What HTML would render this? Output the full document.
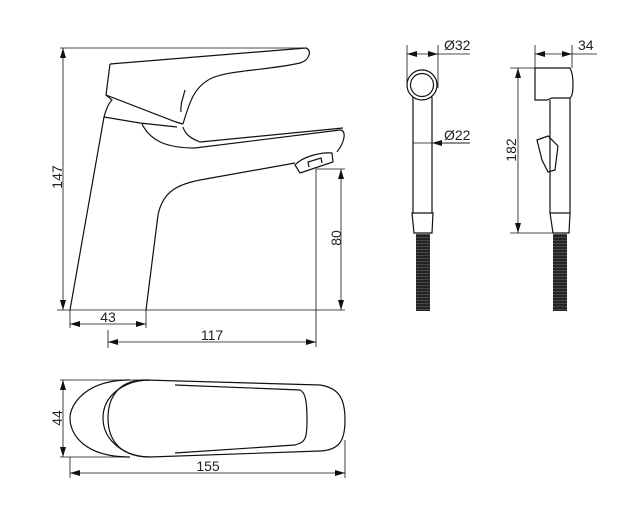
<!DOCTYPE html>
<html><head><style>html,body{margin:0;padding:0;background:#fff}svg{display:block}text{font-family:"Liberation Sans",sans-serif;font-size:14px;fill:#222}</style></head>
<body>
<svg width="623" height="531" viewBox="0 0 623 531" xmlns="http://www.w3.org/2000/svg">
<defs>
<marker id="a" viewBox="0 0 10 6" refX="10" refY="3" markerWidth="10" markerHeight="6" orient="auto-start-reverse" markerUnits="userSpaceOnUse"><path d="M0,0L10,3L0,6z" fill="#111"/></marker>
<pattern id="h" width="4" height="3" patternUnits="userSpaceOnUse"><rect width="4" height="3" fill="#222"/><line x1="0" y1="0" x2="4" y2="1" stroke="#777" stroke-width="0.6"/></pattern>
</defs>
<g fill="none" stroke="#111" stroke-width="1.2">
<path d="M70,310 L104,117"/>
<path d="M146,310 L158,215 C163,190 180,184 200,180 L295,163"/>
<path d="M110,64 L306,48 C312,50 310,60 300,63 C270,70 230,70 212,78 C195,86 190,100 183,124"/>
<path d="M110,64 L106,95 L176,122 L183,124"/>
<path d="M106,95 L112,100 C108,104 106,110 104,117 L140,123 L177,127"/>
<path d="M185,90 C183,98 180,105 181,112"/>
<path d="M142,124 C150,140 165,148 195,148 L340,130 C346,130 346,140 337,152"/>
<path d="M183,127 C185,134 190,138 200,142 L343,128"/>
<path d="M295,165 L300,173 L333,162 L332,153 C320,152 302,157 295,165 Z"/>
<path d="M309,167 L308,162 L321,158 L322,163"/>
</g>
<g fill="none" stroke="#111" stroke-width="0.8">
<line x1="60" y1="48" x2="307" y2="48"/>
<line x1="63" y1="48" x2="63" y2="310" marker-start="url(#a)" marker-end="url(#a)"/>
<line x1="57" y1="310" x2="345" y2="310"/>
<line x1="316" y1="169" x2="345" y2="169"/>
<line x1="341" y1="169" x2="341" y2="310" marker-start="url(#a)" marker-end="url(#a)"/>
<line x1="316" y1="169" x2="316" y2="347"/>
<line x1="70" y1="310" x2="70" y2="328"/>
<line x1="146" y1="310" x2="146" y2="328"/>
<line x1="70" y1="324" x2="146" y2="324" marker-start="url(#a)" marker-end="url(#a)"/>
<line x1="108" y1="330" x2="108" y2="348"/>
<line x1="108" y1="342" x2="316" y2="342" marker-start="url(#a)" marker-end="url(#a)"/>
<line x1="60" y1="380" x2="150" y2="380"/>
<line x1="60" y1="457" x2="130" y2="457"/>
<line x1="63" y1="380" x2="63" y2="457" marker-start="url(#a)" marker-end="url(#a)"/>
<line x1="70" y1="457" x2="70" y2="478"/>
<line x1="345" y1="440" x2="345" y2="478"/>
<line x1="70" y1="473" x2="345" y2="473" marker-start="url(#a)" marker-end="url(#a)"/>
<line x1="407" y1="45" x2="407" y2="88"/>
<line x1="438" y1="45" x2="438" y2="88"/>
<line x1="407" y1="54" x2="438" y2="54" marker-start="url(#a)" marker-end="url(#a)"/>
<line x1="438" y1="54" x2="470" y2="54"/>
<line x1="413" y1="143" x2="470" y2="143"/>
<line x1="470" y1="143" x2="432" y2="143" marker-end="url(#a)"/>
<line x1="535" y1="45" x2="535" y2="68"/>
<line x1="572" y1="45" x2="572" y2="68"/>
<line x1="535" y1="54" x2="572" y2="54" marker-start="url(#a)" marker-end="url(#a)"/>
<line x1="572" y1="54" x2="597" y2="54"/>
<line x1="510" y1="68" x2="545" y2="68"/>
<line x1="510" y1="233" x2="560" y2="233"/>
<line x1="518" y1="68" x2="518" y2="233" marker-start="url(#a)" marker-end="url(#a)"/>
</g>
<g fill="none" stroke="#111" stroke-width="1.2">
<path d="M130,380 C85,380 70,405 70,418 C70,435 85,457 130,457"/>
<path d="M150,380 C125,380 103,395 103,418 C103,441 125,457 150,457"/>
<path d="M145,380 L320,385 C340,388 345,400 345,420 C345,440 340,450 320,451 L150,457 C120,457 108,440 108,418 C108,396 120,380 145,380 Z"/>
<path d="M175,385 L300,390 C305,392 307,400 307,420 C307,440 305,442 295,445 L175,453"/>
<circle cx="422" cy="85" r="15"/>
<circle cx="422" cy="85" r="11.5"/>
<path d="M413,97 L413,213 M432,97 L432,213"/>
<path d="M412,213 L433,213 L432,233 L414,233 Z"/>
<path d="M535,68 L570,68 C574,75 574,95 570,98 L552,98 L547,100 L535,100 Z"/>
<path d="M550,100 L550,213 M570,98 L570,213"/>
<path d="M537,140 L548,136 L558,146 L555,170 L548,172 L542,160 Z"/>
<path d="M550,213 L570,213 L569,233 L553,233 Z"/>
</g>
<rect x="416" y="234" width="14" height="77" fill="url(#h)"/>
<rect x="553" y="234" width="14" height="77" fill="url(#h)"/>
<text x="57" y="177" text-anchor="middle" transform="rotate(-90 57 177)" dy="5">147</text>
<text x="336" y="238" text-anchor="middle" transform="rotate(-90 336 238)" dy="5">80</text>
<text x="108" y="322" text-anchor="middle">43</text>
<text x="212" y="340" text-anchor="middle">117</text>
<text x="57" y="418" text-anchor="middle" transform="rotate(-90 57 418)" dy="5">44</text>
<text x="208" y="471" text-anchor="middle">155</text>
<text x="444" y="50">Ø32</text>
<text x="444" y="140">Ø22</text>
<text x="578" y="50">34</text>
<text x="511" y="150" text-anchor="middle" transform="rotate(-90 511 150)" dy="5">182</text>
</svg>
</body></html>
